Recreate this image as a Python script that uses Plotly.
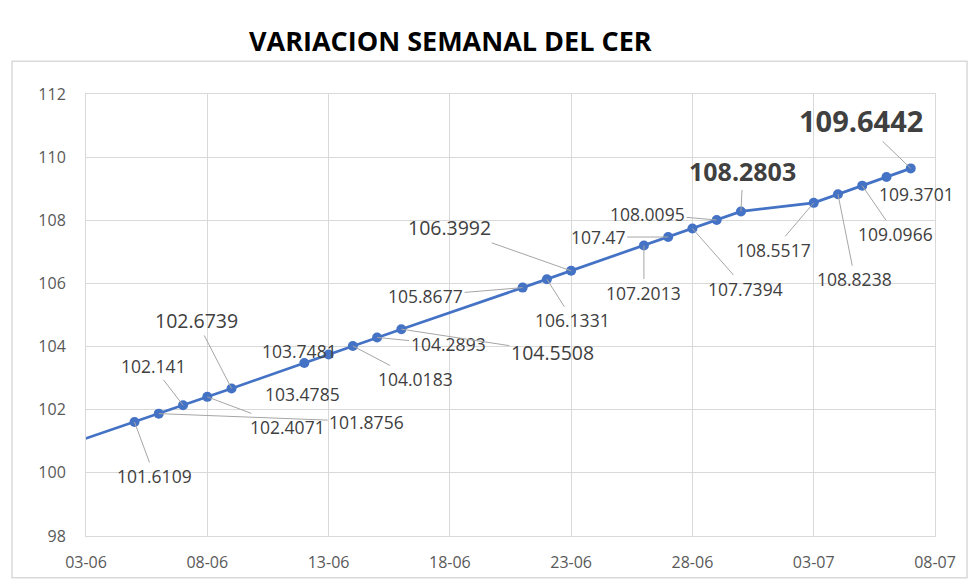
import plotly.graph_objects as go

# ---- data ----
dates = ["2022-06-02", "2022-06-05", "2022-06-06", "2022-06-07", "2022-06-08", "2022-06-09",
         "2022-06-12", "2022-06-13", "2022-06-14", "2022-06-15", "2022-06-16",
         "2022-06-21", "2022-06-22", "2022-06-23", "2022-06-26", "2022-06-27",
         "2022-06-28", "2022-06-29", "2022-06-30", "2022-07-03", "2022-07-04",
         "2022-07-05", "2022-07-06", "2022-07-07"]
cer = [100.83, 101.6109, 101.8756, 102.141, 102.4071, 102.6739,
       103.4785, 103.7481, 104.0183, 104.2893, 104.5508,
       105.8677, 106.1331, 106.3992, 107.2013, 107.47,
       107.7394, 108.0095, 108.2803, 108.5517, 108.8238,
       109.0966, 109.3701, 109.6442]
labels = [None, "101.6109", "101.8756", "102.141", "102.4071", "102.6739",
          "103.4785", "103.7481", "104.0183", "104.2893", "104.5508",
          "105.8677", "106.1331", "106.3992", "107.2013", "107.47",
          "107.7394", "108.0095", "108.2803", "108.5517", "108.8238",
          "109.0966", "109.3701", "109.6442"]
x_ticks = ["2022-06-03", "2022-06-08", "2022-06-13", "2022-06-18", "2022-06-23",
           "2022-06-28", "2022-07-03", "2022-07-08"]
x_ticktext = ["03-06", "08-06", "13-06", "18-06", "23-06", "28-06", "03-07", "08-07"]
y_ticks = [98, 100, 102, 104, 106, 108, 110, 112]

# ---- label layout (pixel offsets of label centre from point, style) ----
offsets = [None, (20, 54), (208, 8), (-30, -39), (80, 30), (-35, -68),
           (-2, 31), (-29, -4), (63, 33), (71, 7), (151, 23),
           (-97, 8), (26, 41), (-122, -43), (0, 47), (-70, 0),
           (53, 60), (-69, -6), (2, -40), (-40, 47), (17, 85),
           (33, 48), (30, 17), (-50, -48)]
label_style = [None, "n", "n", "n", "n", "L",
               "n", "n", "n", "n", "L",
               "n", "n", "L", "n", "n",
               "n", "n", "B", "n", "n",
               "n", "n", "XB"]
no_leader = {"103.4785", "103.7481", "109.3701"}

LINE = "#4472C4"
GRID = "#D9D9D9"
FONT = "Open Sans"

fig = go.Figure()
fig.add_trace(go.Scatter(
    x=dates, y=cer, mode="lines+markers",
    line=dict(color=LINE, width=2.75),
    marker=dict(color=LINE, size=10),
    showlegend=False, hoverinfo="x+y",
))

styles = {
    "n": dict(size=17.5, color="#404040", family=FONT),
    "L": dict(size=19.5, color="#404040", family=FONT),
    "B": dict(size=25, color="#404040", family=FONT, weight="bold"),
    "XB": dict(size=29, color="#404040", family=FONT, weight="bold"),
}

annotations = []
for d, v, lab, off, st in zip(dates, cer, labels, offsets, label_style):
    if lab is None:
        continue
    annotations.append(dict(
        x=d, y=v, xref="x", yref="y", text=lab,
        ax=off[0], ay=off[1], showarrow=True, arrowhead=0, arrowwidth=1,
        arrowcolor="rgba(0,0,0,0)" if lab in no_leader else "#A6A6A6",
        font=styles[st], xanchor="center", yanchor="middle",
    ))

annotations.append(dict(
    text="VARIACION SEMANAL DEL CER", xref="paper", yref="paper",
    x=(450 - 86) / 849, y=(538 - 40) / 444, showarrow=False,
    xanchor="center", yanchor="middle",
    font=dict(family=FONT, size=27, color="#000000", weight="bold"),
))

fig.update_layout(
    width=980, height=585,
    margin=dict(l=86, r=45, t=94, b=47),
    paper_bgcolor="white", plot_bgcolor="white",
    annotations=annotations,
    shapes=[dict(type="rect", xref="paper", yref="paper",
                 x0=(12 - 86) / 849, x1=(967 - 86) / 849,
                 y0=(538 - 580) / 444, y1=(538 - 61) / 444,
                 line=dict(color=GRID, width=1.5), fillcolor="rgba(0,0,0,0)", layer="below")],
)
fig.update_xaxes(
    type="date", range=["2022-06-03", "2022-07-08"],
    tickvals=x_ticks, ticktext=x_ticktext,
    showgrid=True, gridcolor=GRID, gridwidth=1,
    showline=True, linecolor=GRID, linewidth=1, mirror=True,
    zeroline=False, ticks="", ticklabelstandoff=12,
    tickfont=dict(family=FONT, size=16, color="#595959"),
)
fig.update_yaxes(
    range=[98, 112], tickvals=y_ticks,
    showgrid=True, gridcolor=GRID, gridwidth=1,
    showline=True, linecolor=GRID, linewidth=1, mirror=True,
    zeroline=False, ticks="", ticklabelstandoff=16,
    tickfont=dict(family=FONT, size=16, color="#595959"),
)

fig.write_html("out.html", config={"displayModeBar": False},
               post_script="document.body.style.margin='0';document.body.style.overflow='hidden';")
